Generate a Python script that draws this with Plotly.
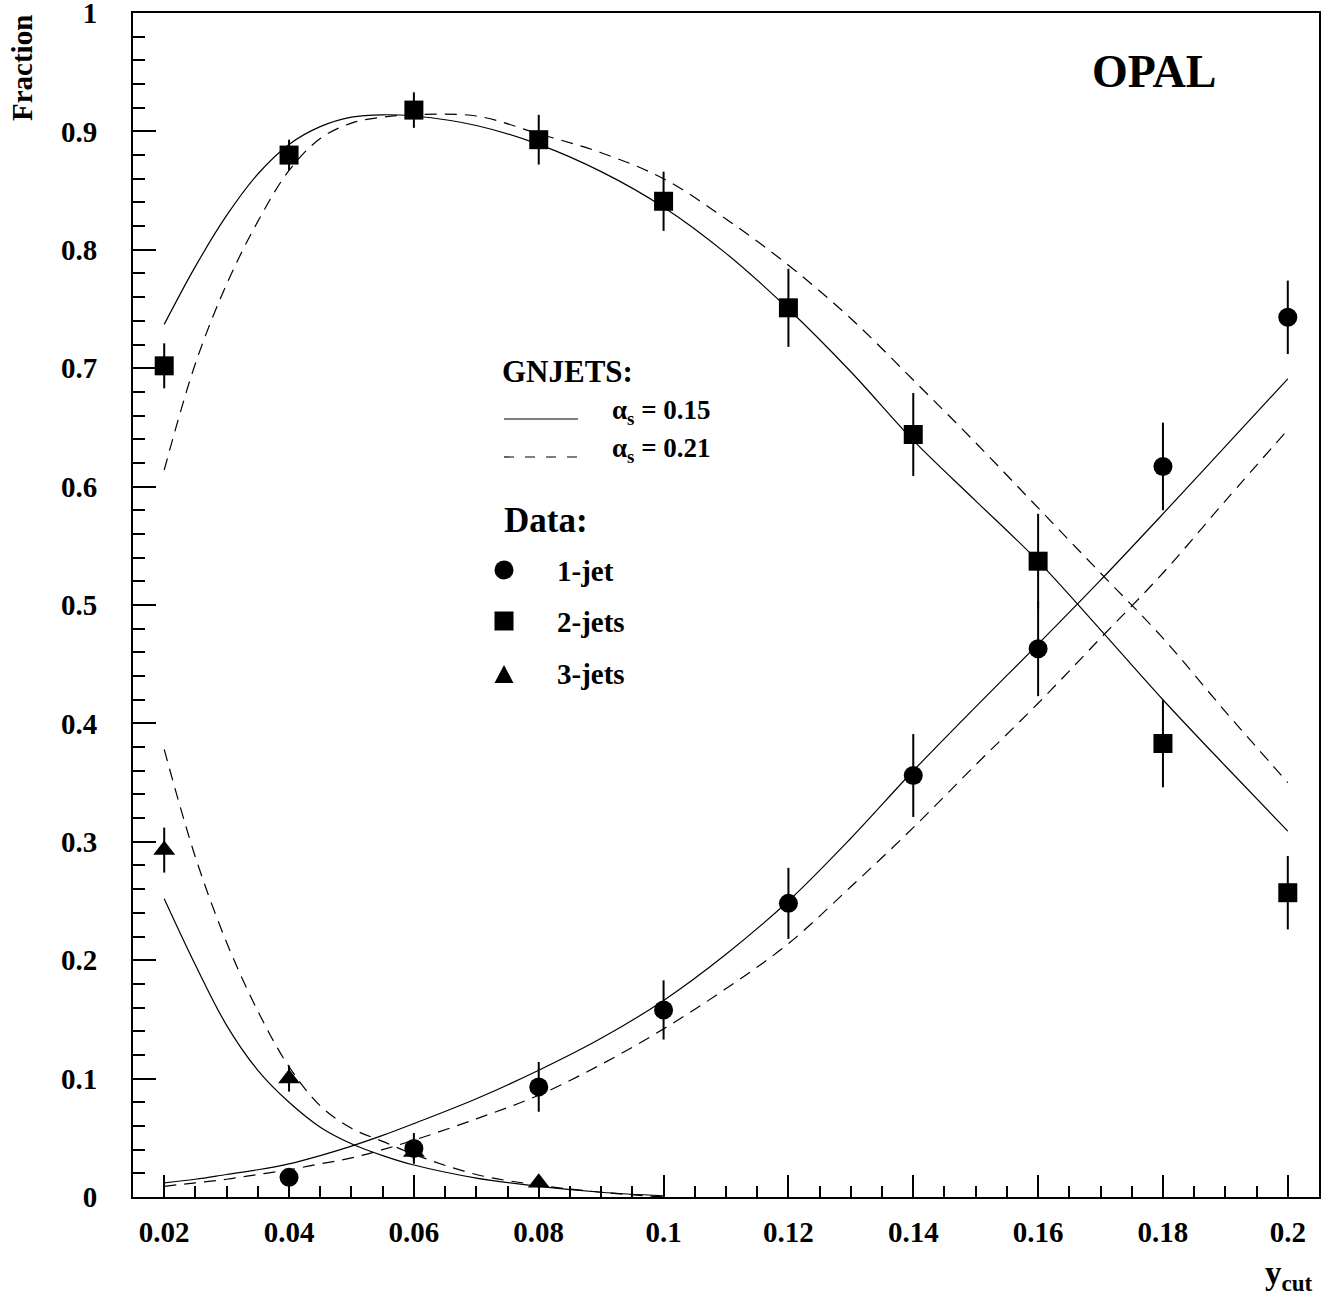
import plotly.graph_objects as go

# ---------------- data ----------------
# measured points
one_jet_x = [0.04, 0.06, 0.08, 0.10, 0.12, 0.14, 0.16, 0.18, 0.20]
one_jet_y = [0.0166, 0.041, 0.093, 0.158, 0.248, 0.356, 0.463, 0.617, 0.743]
one_jet_err = [0.005, 0.013, 0.021, 0.025, 0.030, 0.035, 0.040, 0.037, 0.031]

two_jet_x = [0.02, 0.04, 0.06, 0.08, 0.10, 0.12, 0.14, 0.16, 0.18, 0.20]
two_jet_y = [0.702, 0.880, 0.918, 0.893, 0.841, 0.751, 0.644, 0.537, 0.383, 0.257]
two_jet_err = [0.019, 0.013, 0.015, 0.021, 0.025, 0.033, 0.035, 0.040, 0.037, 0.031]

three_jet_x = [0.02, 0.04, 0.06, 0.08]
three_jet_y = [0.293, 0.100, 0.038, 0.012]
three_jet_err = [0.019, 0.011, 0.008, 0.004]

# GNJETS predictions
th_x = [0.02, 0.025, 0.03, 0.035, 0.04, 0.045, 0.05, 0.055, 0.06,
        0.07, 0.08, 0.09, 0.10, 0.11, 0.12, 0.13, 0.14, 0.15, 0.16,
        0.17, 0.18, 0.19, 0.20]
th3_x = th_x[:13]

a15_1jet = [0.012, 0.015, 0.019, 0.023, 0.028, 0.035, 0.043, 0.052, 0.062,
            0.083, 0.107, 0.134, 0.166, 0.205, 0.250, 0.303, 0.360, 0.414, 0.467,
            0.521, 0.577, 0.634, 0.691]
a15_2jet = [0.737, 0.786, 0.829, 0.864, 0.889, 0.904, 0.912, 0.914, 0.913,
            0.905, 0.889, 0.866, 0.836, 0.797, 0.750, 0.697, 0.639, 0.588, 0.537,
            0.479, 0.420, 0.364, 0.309]
a15_3jet = [0.252, 0.196, 0.145, 0.107, 0.080, 0.059, 0.045, 0.035, 0.027,
            0.016, 0.009, 0.004, 0.001]

a21_1jet = [0.009, 0.012, 0.015, 0.019, 0.023, 0.028, 0.033, 0.040, 0.048,
            0.066, 0.086, 0.112, 0.142, 0.176, 0.214, 0.262, 0.312, 0.365, 0.417,
            0.472, 0.527, 0.588, 0.648]
a21_2jet = [0.614, 0.704, 0.771, 0.824, 0.867, 0.894, 0.907, 0.912, 0.914,
            0.913, 0.898, 0.882, 0.860, 0.826, 0.787, 0.742, 0.690, 0.637, 0.582,
            0.527, 0.472, 0.410, 0.350]
a21_3jet = [0.378, 0.287, 0.215, 0.157, 0.110, 0.077, 0.058, 0.047, 0.036,
            0.019, 0.010, 0.004, 0.000]

x_tickvals = [0.02, 0.04, 0.06, 0.08, 0.10, 0.12, 0.14, 0.16, 0.18, 0.20]
x_ticktext = ["0.02", "0.04", "0.06", "0.08", "0.1", "0.12", "0.14", "0.16", "0.18", "0.2"]
y_tickvals = [0, 0.1, 0.2, 0.3, 0.4, 0.5, 0.6, 0.7, 0.8, 0.9, 1.0]
y_ticktext = ["0", "0.1", "0.2", "0.3", "0.4", "0.5", "0.6", "0.7", "0.8", "0.9", "1"]

# ---------------- layout geometry ----------------
W, H = 1325, 1295
L, R, T, B = 133, 6, 13, 98
PW, PH = W - L - R, H - T - B

def px(x):
    return (x - L) / PW

def py(y):
    return (H - B - y) / PH

FONT = "Liberation Serif, Times New Roman, serif"

fig = go.Figure()

line_solid = dict(color="black", width=1.2)
line_dash = dict(color="black", width=1.2, dash="12px,8px")

for ys in (a15_1jet, a15_2jet):
    fig.add_trace(go.Scatter(x=th_x, y=ys, mode="lines", line=line_solid,
                             line_shape="spline", showlegend=False, hoverinfo="skip"))
fig.add_trace(go.Scatter(x=th3_x, y=a15_3jet, mode="lines", line=line_solid,
                         line_shape="spline", showlegend=False, hoverinfo="skip"))
for ys in (a21_1jet, a21_2jet):
    fig.add_trace(go.Scatter(x=th_x, y=ys, mode="lines", line=line_dash,
                             line_shape="spline", showlegend=False, hoverinfo="skip"))
fig.add_trace(go.Scatter(x=th3_x, y=a21_3jet, mode="lines", line=line_dash,
                         line_shape="spline", showlegend=False, hoverinfo="skip"))

err_style = dict(type="data", thickness=2, width=0, color="black")

fig.add_trace(go.Scatter(x=three_jet_x, y=three_jet_y, mode="markers",
                         marker=dict(symbol="triangle-up", size=19, color="black"),
                         error_y=dict(array=three_jet_err, **err_style), showlegend=False))
fig.add_trace(go.Scatter(x=two_jet_x, y=two_jet_y, mode="markers",
                         marker=dict(symbol="square", size=19, color="black"),
                         error_y=dict(array=two_jet_err, **err_style), showlegend=False))
fig.add_trace(go.Scatter(x=one_jet_x, y=one_jet_y, mode="markers",
                         marker=dict(symbol="circle", size=19, color="black"),
                         error_y=dict(array=one_jet_err, **err_style), showlegend=False))

# ---------------- legend / labels ----------------
ann = []
def text(x, y, s, size, xanchor="left", yanchor="middle", angle=0):
    ann.append(dict(x=px(x), y=py(y), xref="paper", yref="paper", text=s,
                    showarrow=False, xanchor=xanchor, yanchor=yanchor, textangle=angle,
                    font=dict(family=FONT, size=size, color="black", weight="bold")))

text(1218, 72, "OPAL", 46, xanchor="right")
text(500, 372, "GNJETS:", 31)
text(610, 412, "α<sub>s</sub> = 0.15", 27)
text(610, 450, "α<sub>s</sub> = 0.21", 27)
text(502, 520, "Data:", 35)
text(555, 571, "1-jet", 29)
text(555, 622, "2-jets", 29)
text(555, 674, "3-jets", 29)
text(1315, 1275, "y<sub>cut</sub>", 33, xanchor="right")
text(22, 68, "Fraction", 29, xanchor="center", angle=-90)

shapes = []
shapes.append(dict(type="line", xref="paper", yref="paper", x0=px(504), x1=px(578),
                   y0=py(419), y1=py(419), line=dict(color="black", width=1.2)))
shapes.append(dict(type="line", xref="paper", yref="paper", x0=px(504), x1=px(578),
                   y0=py(457), y1=py(457), line=dict(color="black", width=1.2, dash="10px,11px")))
r = 9.5
shapes.append(dict(type="circle", xref="paper", yref="paper", x0=px(504 - r), x1=px(504 + r),
                   y0=py(570 - r), y1=py(570 + r), fillcolor="black", line=dict(width=0)))
shapes.append(dict(type="rect", xref="paper", yref="paper", x0=px(504 - r), x1=px(504 + r),
                   y0=py(621 - r), y1=py(621 + r), fillcolor="black", line=dict(width=0)))
tx0, ty0 = px(494.5), py(683)
tx1 = px(513.5)
tyt = py(665)
shapes.append(dict(type="path", xref="paper", yref="paper",
                   path=f"M {tx0} {ty0} L {tx1} {ty0} L {(tx0 + tx1) / 2} {tyt} Z",
                   fillcolor="black", line=dict(width=0)))

tickfont = dict(family=FONT, size=29, color="black", weight="bold")

fig.update_layout(
    width=W, height=H,
    margin=dict(l=L, r=R, t=T, b=B, autoexpand=False),
    paper_bgcolor="white", plot_bgcolor="white",
    annotations=ann, shapes=shapes,
    xaxis=dict(range=[0.015, 0.205], tickvals=x_tickvals, ticktext=x_ticktext,
               ticks="inside", ticklen=22, tickwidth=1.5, tickcolor="black",
               minor=dict(dtick=0.005, tick0=0, ticks="inside", ticklen=11,
                          tickwidth=1.5, tickcolor="black"),
               showline=True, linecolor="black", linewidth=2, mirror=True,
               showgrid=False, zeroline=False, tickfont=tickfont, ticklabelstandoff=8,
               automargin=False, ticklabeloverflow="allow"),
    yaxis=dict(range=[0, 1], tickvals=y_tickvals, ticktext=y_ticktext,
               ticks="inside", ticklen=23, tickwidth=1.5, tickcolor="black",
               minor=dict(dtick=0.02, tick0=0, ticks="inside", ticklen=12,
                          tickwidth=1.5, tickcolor="black"),
               showline=True, linecolor="black", linewidth=2, mirror=True,
               showgrid=False, zeroline=False, tickfont=tickfont, ticklabelstandoff=28,
               automargin=False, ticklabeloverflow="allow"),
)

fig.write_html(
    "out.html",
    config={"displayModeBar": False},
    post_script="document.body.style.margin='0';document.body.style.overflow='hidden';"
                "document.documentElement.style.overflow='hidden';",
)
